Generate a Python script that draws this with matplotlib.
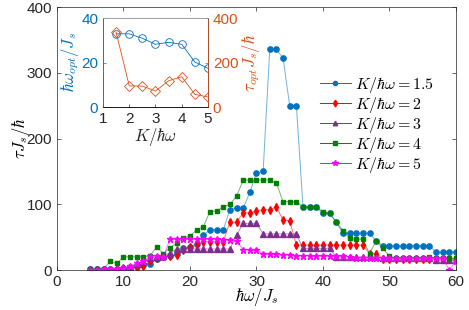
import numpy as np
import matplotlib
matplotlib.use('Agg')
import matplotlib.pyplot as plt
from matplotlib.lines import Line2D

plt.rcParams['font.family'] = ['Liberation Sans', 'DejaVu Sans']
plt.rcParams['mathtext.fontset'] = 'cm'

# main panel: tau J_s / hbar vs hbar omega / J_s, one series per K/hbar omega
x = np.arange(5, 61)
tau_k15 = [1, 1, 1, 2, 2, 3, 4, 6, 8, 9,
           17, 20, 22, 25, 33, 35, 40, 53, 61, 61,
           61, 92, 94, 94, 118, 148, 150, 336, 336, 322,
           250, 250, 96, 96, 96, 86, 86, 73, 56, 56,
           56, 56, 56, 44, 37, 37, 37, 37, 37, 37,
           37, 37, 27, 27, 27, 27]
tau_k2 = [0, 0, 0, 0, 1, 1, 2, 3, 6, 13,
          18, 21, 21, 23, 30, 35, 38, 43, 43, 43,
          43, 73, 73, 87, 87, 90, 92, 92, 96, 76,
          75, 38, 38, 38, 38, 38, 38, 38, 38, 38,
          38, 38, 25, 25, 17, 17, 17, 17, 17, 17,
          17, 17, 17, 17, 17, 17]
tau_k3 = [1, 1, 1, 2, 3, 4, 5, 9, 13, 18,
          20, 22, 26, 32, 32, 32, 32, 32, 32, 32,
          32, 32, 53, 71, 71, 71, 55, 55, 55, 55,
          55, 55, 33, 33, 33, 33, 33, 20, 20, 20,
          20, 20, 20, 20, 18, 18, 18, 18, 18, 18,
          18, 18, 15, 15, 15, 15]
tau_k4 = [1, 1, 2, 13, 10, 20, 20, 20, 20, 22,
          35, 25, 34, 41, 48, 52, 61, 66, 89, 90,
          96, 100, 112, 137, 137, 137, 137, 137, 132, 104,
          104, 104, 96, 96, 96, 89, 86, 73, 60, 48,
          47, 47, 25, 44, 33, 21, 18, 18, 18, 18,
          18, 20, 18, 18, 18, 18]
tau_k5 = [0, 0, 1, 1, 2, 3, 6, 10, 13, 21,
          21, 20, 47, 47, 47, 47, 47, 47, 47, 47,
          46, 45, 44, 31, 31, 31, 24, 24, 24, 23,
          23, 22, 22, 22, 22, 21, 21, 21, 21, 20,
          19, 19, 19, 19, 19, 19, 18, 18, 18, 18,
          18, 18, 18, 18, 0, 14]

# inset: optimal frequency and time vs K/hbar omega
k_vals = [1.5, 2, 2.5, 3, 3.5, 4, 4.5, 5]
w_opt = [32.9, 32.9, 30.9, 28.2, 29.1, 28.2, 20.2, 17.4]
tau_opt = [336, 95, 94, 72, 118, 136, 57, 45]

series = [
    (tau_k15, '1.5', '#0072BD', 'o', 3.8),
    (tau_k2, '2', '#FF0000', 'd', 4.2),
    (tau_k3, '3', '#7E2F8E', '^', 4.0),
    (tau_k4, '4', '#008000', 's', 3.0),
    (tau_k5, '5', '#FF00FF', '*', 4.8),
]

fig = plt.figure(figsize=(4.69, 3.10), dpi=100)
ax = fig.add_axes([0.1215, 0.129, 0.8507, 0.848])
handles = []
for y, lab, c, m, ms in series:
    ax.plot(x, y, color=c, lw=0.7, alpha=0.55)
    ax.plot(x, y, ls='none', marker=m, ms=ms, mec=c, mfc=c)
    handles.append(Line2D([], [], color=c, lw=0.7, marker=m, ms=ms - 0.8,
                          mec=c, mfc=c, label=r'$K/\hbar\omega = %s$' % lab))
ax.set_xlim(0, 60)
ax.set_ylim(0, 400)
ax.set_xticks(range(0, 61, 10))
ax.set_yticks(range(0, 401, 100))
ax.tick_params(direction='in', top=True, right=True, labelsize=11, colors='0.15',
               length=3, width=0.5)
for s in ax.spines.values():
    s.set_color('0.15')
    s.set_linewidth(0.5)
ax.set_xlabel(r'$\hbar\omega/J_s$', fontsize=12, labelpad=-2)
ax.set_ylabel(r'$\tau J_s/\hbar$', fontsize=12, labelpad=-4)
ax.legend(handles=handles, loc='upper left', bbox_to_anchor=(0.63, 0.785),
          frameon=False, fontsize=11.5, handlelength=2.0, handletextpad=0.2,
          labelspacing=0.0, borderpad=0.2)

# inset
ai = fig.add_axes([0.2196, 0.6548, 0.2239, 0.287])
ai.plot(k_vals, w_opt, color='#0072BD', lw=0.6, marker='o', ms=5.5, mfc='none',
        mec='#0072BD', mew=0.6)
ai.set_xlim(1, 5)
ai.set_ylim(0, 40)
ai.set_xticks([1, 2, 3, 4, 5])
ai.set_yticks([0, 20, 40])
ai.tick_params(axis='x', direction='in', labelsize=11, colors='0.15', length=2, width=0.5)
ai.tick_params(axis='y', direction='in', labelsize=11, colors='#0072BD', length=2, width=0.5)
ai.set_xlabel(r'$K/\hbar\omega$', fontsize=12, labelpad=0, color='0.15')
ai.set_ylabel(r'$\hbar\omega_{opt}/J_s$', fontsize=12, color='#0072BD', labelpad=0)
ai.spines['left'].set_color('#0072BD')
ai.spines['top'].set_color('0.6')
ai.spines['bottom'].set_color('0.15')

ai2 = ai.twinx()
ai2.plot(k_vals, tau_opt, color='#D95319', lw=0.6, marker='D', ms=5, mfc='none',
         mec='#D95319', mew=0.6)
ai2.set_ylim(0, 400)
ai2.set_yticks([0, 200, 400])
ai2.tick_params(axis='y', direction='in', labelsize=11, colors='#D95319', length=2, width=0.5)
ai2.set_ylabel(r'$\tau_{opt}J_s/\hbar$', fontsize=12, color='#D95319', labelpad=1)
ai2.spines['right'].set_color('#D95319')
ai2.spines['left'].set_color('#0072BD')
ai2.spines['top'].set_color('0.6')
for a in (ai, ai2):
    for s in a.spines.values():
        s.set_linewidth(0.5)

fig.savefig('out.png', dpi=100)
